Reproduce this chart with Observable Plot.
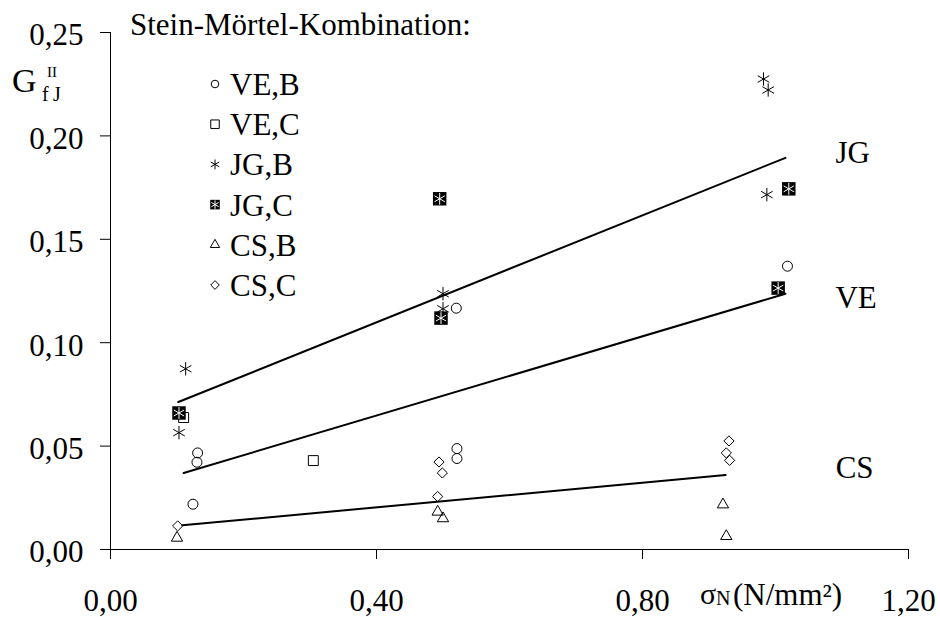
<!DOCTYPE html>
<html>
<head>
<meta charset="utf-8">
<script src="https://cdn.jsdelivr.net/npm/d3@7"></script>
<script src="https://cdn.jsdelivr.net/npm/@observablehq/plot@0.6"></script>
<style>
  html, body { margin: 0; padding: 0; background: #fff; }
  #chart { position: relative; width: 940px; height: 617px; font-family: "Liberation Serif", "Times New Roman", serif; }
  #chart svg.overlay { position: absolute; left: 0; top: 0; pointer-events: none; }
</style>
</head>
<body>
<div id="chart"></div>
<script>
// Normal stress σN (N/mm²) and fracture energy G (mode II) per brick–mortar combination
const veB_x = [0.124, 0.130, 0.131, 0.520, 0.521, 0.521, 1.018];
const veB_y = [0.0219, 0.0422, 0.0467, 0.1167, 0.0488, 0.0440, 0.1370];

const veC_x = [0.110, 0.305];
const veC_y = [0.0638, 0.0430];

const jgB_x = [0.113, 0.103, 0.500, 0.500, 0.982, 0.989, 0.987];
const jgB_y = [0.0874, 0.0565, 0.1237, 0.1164, 0.2275, 0.2222, 0.1716];

const jgC_x = [0.103, 0.495, 0.497, 1.020, 1.004];
const jgC_y = [0.0660, 0.1696, 0.1119, 0.1744, 0.1264];

const csB_x = [0.100, 0.492, 0.500, 0.921, 0.926];
const csB_y = [0.0056, 0.0182, 0.0150, 0.0217, 0.0064];

const csC_x = [0.101, 0.494, 0.499, 0.492, 0.930, 0.926, 0.931];
const csC_y = [0.0114, 0.0423, 0.0370, 0.0256, 0.0525, 0.0467, 0.0431];

// Linear trend lines (start and end of each fit)
const trendNames = ["JG", "VE", "CS"];
const trendX = [[0.102, 1.015], [0.110, 1.015], [0.108, 0.925]];
const trendY = [[0.0713, 0.1894], [0.0370, 0.1237], [0.0117, 0.0360]];

const xTicks = [0, 0.4, 0.8, 1.2];
const yTicks = [0, 0.05, 0.10, 0.15, 0.20, 0.25];

const seriesNames = ["VE,B", "VE,C", "JG,B", "JG,C", "CS,B", "CS,C"];
const seriesX = [veB_x, veC_x, jgB_x, jgC_x, csB_x, csC_x];
const seriesY = [veB_y, veC_y, jgB_y, jgC_y, csB_y, csC_y];

// ---- tables for the marks ----
const points = seriesNames.flatMap((s, k) =>
  seriesX[k].map((x, i) => ({s, x, y: seriesY[k][i]})));
const trend = trendNames.flatMap((s, k) =>
  trendX[k].map((x, i) => ({s, x, y: trendY[k][i]})));
const trendEnds = trendNames.map((s, k) => ({s, x: trendX[k][1], y: trendY[k][1]}));

const fmt = d => d3.format(".2f")(d).replace(".", ",");
const FONT = '"Liberation Serif", "Times New Roman", serif';

// Marker style per series
const markStyle = {
  "VE,B": {symbol: "circle", r: 5},
  "VE,C": {symbol: "square", r: 5.6},
  "JG,B": {symbol: "asterisk", r: 6.3},
  "CS,B": {symbol: "triangle", r: 4.2},
  "CS,C": {symbol: "diamond2", r: 4.6}
};
// Label offsets for the trend-line names
const labelOffset = {JG: {dx: 50, dy: -5}, VE: {dx: 50, dy: 4}, CS: {dx: 110, dy: -7}};

const dotMarks = [];
for (const s of seriesNames) {
  const data = points.filter(d => d.s === s);
  if (s === "JG,C") {
    dotMarks.push(Plot.dot(data, {x: "x", y: "y", symbol: "square", r: 7.6, fill: "black", stroke: "none"}));
    dotMarks.push(Plot.dot(data, {x: "x", y: "y", symbol: "asterisk", r: 5.6, stroke: "white", strokeWidth: 1}));
  } else {
    dotMarks.push(Plot.dot(data, {x: "x", y: "y", ...markStyle[s], stroke: "black", fill: "none", strokeWidth: 1}));
  }
}

const labelMarks = trendEnds.map(d => Plot.text([d], {
  x: "x", y: "y", text: "s", textAnchor: "start",
  dx: labelOffset[d.s].dx, dy: labelOffset[d.s].dy, fontSize: 31, fill: "black"
}));

const chart = Plot.plot({
  width: 940,
  height: 617,
  marginLeft: 110,
  marginRight: 32,
  marginTop: 32,
  marginBottom: 68,
  x: {domain: [0, 1.2]},
  y: {domain: [0, 0.25]},
  style: {fontFamily: FONT, fontSize: "31px", color: "black", background: "white", overflow: "visible"},
  marks: [
    Plot.axisX({ticks: xTicks, tickSize: 10, tickPadding: 29, tickFormat: fmt, label: null}),
    Plot.axisY({ticks: yTicks, tickSize: 10, tickFormat: () => "", label: null}),
    Plot.axisY({ticks: yTicks, tickSize: 0, tickPadding: 27, dy: 3, tickFormat: fmt, label: null}),
    Plot.ruleX([0], {stroke: "black"}),
    Plot.ruleY([0], {stroke: "black"}),
    Plot.line(trend, {x: "x", y: "y", z: "s", stroke: "black", strokeWidth: 2}),
    ...dotMarks,
    ...labelMarks
  ]
});

const root = document.getElementById("chart");
root.appendChild(chart);

// ---- title, axis titles and legend ----
const ov = d3.create("svg")
  .attr("class", "overlay")
  .attr("width", 940)
  .attr("height", 617)
  .attr("font-family", FONT)
  .attr("fill", "black");

ov.append("text").attr("x", 130).attr("y", 35).attr("font-size", 31)
  .text("Stein-Mörtel-Kombination:");

// y-axis title: G with superscript II and subscript f J
ov.append("text").attr("x", 12).attr("y", 92).attr("font-size", 34).text("G");
ov.append("text").attr("x", 47).attr("y", 77).attr("font-size", 15).text("II");
ov.append("text").attr("x", 42).attr("y", 101).attr("font-size", 20).text("f");
ov.append("text").attr("x", 53).attr("y", 101).attr("font-size", 20).text("J");

// x-axis title: σN (N/mm²)
ov.append("text").attr("x", 700).attr("y", 604).attr("font-size", 30).text("σ");
ov.append("text").attr("x", 716).attr("y", 605).attr("font-size", 20).text("N");
ov.append("text").attr("x", 733).attr("y", 605).attr("font-size", 31).text("(N/mm²)");

// legend
const legendSymbols = {
  "VE,B": {type: d3.symbolCircle, r: 3.8},
  "VE,C": {type: d3.symbolSquare, r: 4.8},
  "JG,B": {type: d3.symbolAsterisk, r: 4.6},
  "JG,C": {type: d3.symbolSquare, r: 5.4},
  "CS,B": {type: d3.symbolTriangle, r: 3.5},
  "CS,C": {type: d3.symbolDiamond2, r: 3.9}
};
seriesNames.forEach((s, i) => {
  const cy = 84 + i * 40.2;
  const g = ov.append("g").attr("transform", `translate(215,${cy})`);
  const sym = legendSymbols[s];
  const path = d3.symbol(sym.type, Math.PI * sym.r * sym.r)();
  if (s === "JG,C") {
    g.append("path").attr("d", path).attr("fill", "black");
    g.append("path").attr("d", d3.symbol(d3.symbolAsterisk, Math.PI * 4 * 4)())
      .attr("fill", "none").attr("stroke", "white").attr("stroke-width", 1);
  } else {
    g.append("path").attr("d", path).attr("fill", "none").attr("stroke", "black").attr("stroke-width", 1);
  }
  ov.append("text").attr("x", 230).attr("y", cy + 11).attr("font-size", 31).text(s);
});

root.appendChild(ov.node());
</script>
</body>
</html>
